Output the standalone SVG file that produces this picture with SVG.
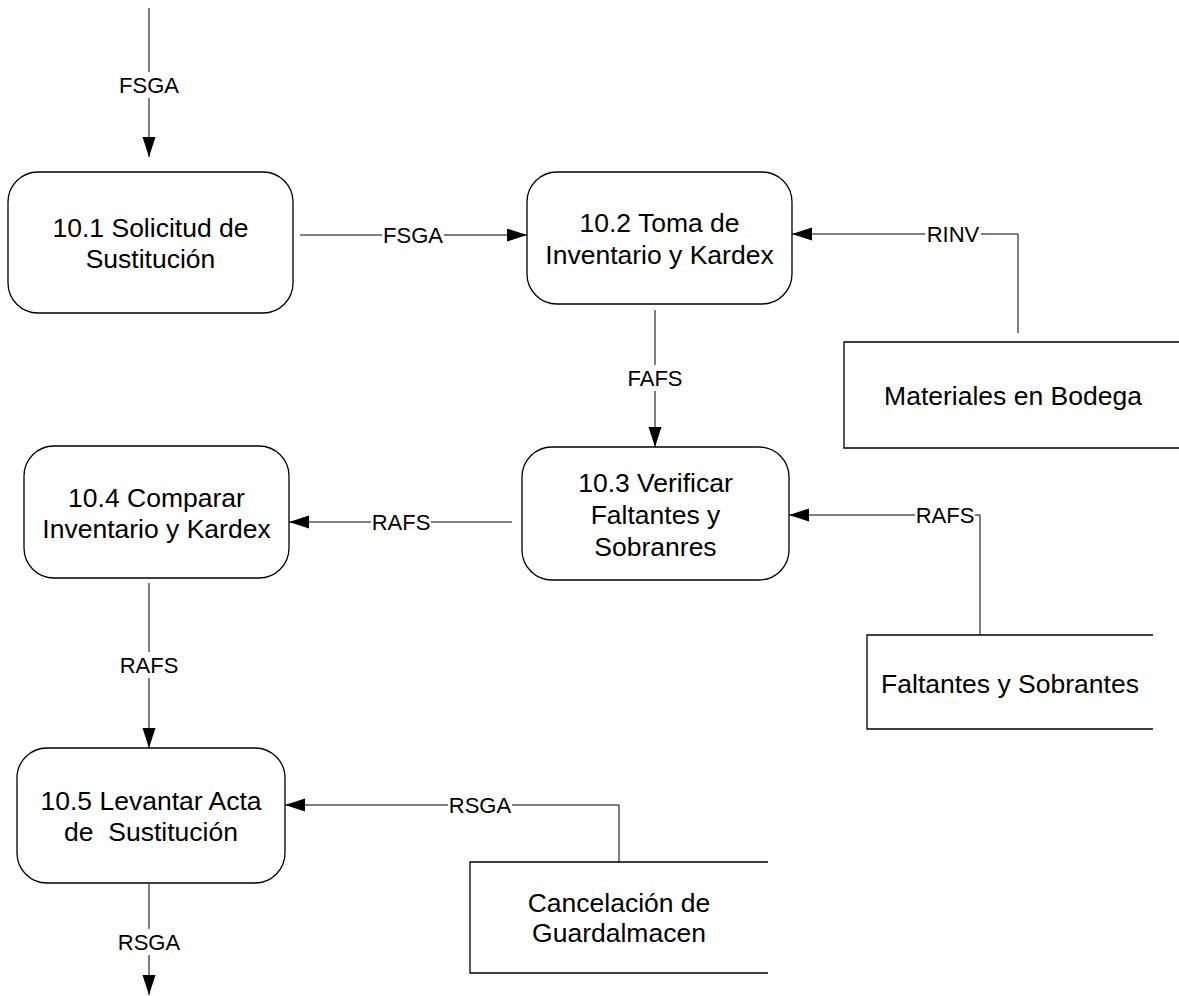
<svg xmlns="http://www.w3.org/2000/svg" width="1179" height="996" viewBox="0 0 1179 996">
<style>
.box{fill:#fff;stroke:#000;stroke-width:1.3}
.store{fill:none;stroke:#000;stroke-width:1.3}
.t{font-family:"Liberation Sans",Arial,sans-serif;font-size:26.5px;fill:#000;text-anchor:middle;white-space:pre}
.c{fill:none;stroke:#000;stroke-width:1}
.lb{font-family:"Liberation Sans",Arial,sans-serif;font-size:22px;fill:#000;text-anchor:middle}
.bg{fill:#fff}
</style>
<defs>
<marker id="ah" markerUnits="userSpaceOnUse" markerWidth="21" markerHeight="14" refX="20" refY="6.5" orient="auto">
<path d="M0,0 L20,6.5 L0,13 Z" fill="#000"/>
</marker>
</defs>
<rect width="1179" height="996" fill="#fff"/>
<g id="connectors">
<path class="c" d="M149,8 V157" marker-end="url(#ah)"/>
<path class="c" d="M300,235 H527" marker-end="url(#ah)"/>
<path class="c" d="M1018,333 V234 H792" marker-end="url(#ah)"/>
<path class="c" d="M655,310 V447" marker-end="url(#ah)"/>
<path class="c" d="M980,635 V515 H789" marker-end="url(#ah)"/>
<path class="c" d="M512,522 H289" marker-end="url(#ah)"/>
<path class="c" d="M149,583 V748" marker-end="url(#ah)"/>
<path class="c" d="M619,862 V805 H285" marker-end="url(#ah)"/>
<path class="c" d="M149,884 V995" marker-end="url(#ah)"/>
<rect class="bg" x="117" y="72" width="64" height="26"/>
<text class="lb" x="149" y="93">FSGA</text>
<rect class="bg" x="382" y="222" width="62" height="26"/>
<text class="lb" x="413" y="243">FSGA</text>
<rect class="bg" x="925" y="221" width="56" height="26"/>
<text class="lb" x="953" y="242">RINV</text>
<rect class="bg" x="625" y="365" width="60" height="26"/>
<text class="lb" x="655" y="386">FAFS</text>
<rect class="bg" x="915" y="502" width="60" height="26"/>
<text class="lb" x="945" y="523">RAFS</text>
<rect class="bg" x="371" y="509" width="60" height="26"/>
<text class="lb" x="401" y="530">RAFS</text>
<rect class="bg" x="119" y="652" width="60" height="26"/>
<text class="lb" x="149" y="673">RAFS</text>
<rect class="bg" x="448" y="792" width="64" height="26"/>
<text class="lb" x="480" y="813">RSGA</text>
<rect class="bg" x="117" y="929" width="64" height="26"/>
<text class="lb" x="149" y="950">RSGA</text>
</g>
<g id="p10_1">
<rect class="box" x="8" y="172" width="285" height="141" rx="30" ry="30"/>
<text class="t" x="150.5" y="236.5">10.1 Solicitud de</text>
<text class="t" x="150.5" y="267.5">Sustitución</text>
</g>
<g id="p10_2">
<rect class="box" x="527" y="172" width="265" height="132" rx="30" ry="30"/>
<text class="t" x="659.5" y="231.5">10.2 Toma de</text>
<text class="t" x="659.5" y="263.5">Inventario y Kardex</text>
</g>
<g id="p10_3">
<rect class="box" x="522" y="447" width="267" height="133" rx="30" ry="30"/>
<text class="t" x="655.5" y="491.5">10.3 Verificar</text>
<text class="t" x="655.5" y="523.5">Faltantes y</text>
<text class="t" x="655.5" y="556">Sobranres</text>
</g>
<g id="p10_4">
<rect class="box" x="24" y="446" width="265" height="132" rx="30" ry="30"/>
<text class="t" x="156.5" y="506.5">10.4 Comparar</text>
<text class="t" x="156.5" y="537.5">Inventario y Kardex</text>
</g>
<g id="p10_5">
<rect class="box" x="17" y="748" width="268" height="135" rx="30" ry="30"/>
<text class="t" x="151" y="809.5">10.5 Levantar Acta</text>
<text class="t" x="151" y="840.5">de  Sustitución</text>
</g>
<g id="ds_materiales">
<path class="store" d="M1179,342 H844 V448 H1179"/>
<text class="t" x="1013" y="404.5">Materiales en Bodega</text>
</g>
<g id="ds_faltantes">
<path class="store" d="M1153,635 H867 V729 H1153"/>
<text class="t" x="1010" y="692.5">Faltantes y Sobrantes</text>
</g>
<g id="ds_cancelacion">
<path class="store" d="M768,862 H470 V973 H768"/>
<text class="t" x="619" y="911.5">Cancelación de</text>
<text class="t" x="619" y="941.5">Guardalmacen</text>
</g>
</svg>
